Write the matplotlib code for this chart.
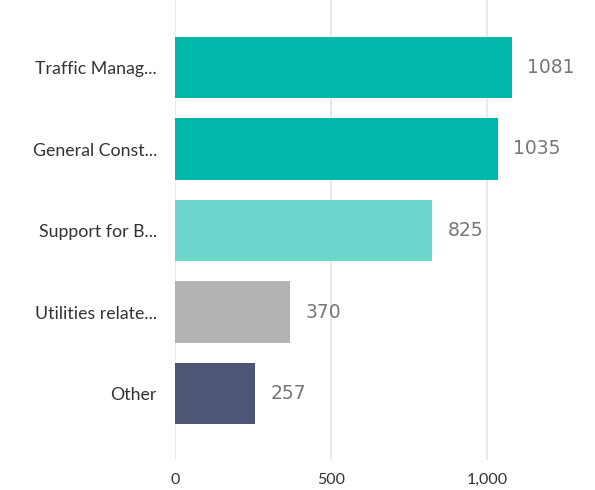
import matplotlib.pyplot as plt
import numpy as np

# Data
categories = ['Traffic Manag...', 'General Const...', 'Support for B...', 'Utilities relate...', 'Other']
values = [1081, 1035, 825, 370, 257]
colors = ['#01B8AA', '#01B8AA', '#6CD6CC', '#B3B3B3', '#4F5675']
ticks = [0, 500, 1000]
tick_labels = ['0', '500', '1,000']

plt.rcParams['font.family'] = ['Lato', 'DejaVu Sans']

W, H = 595, 490
fig = plt.figure(figsize=(W / 100, H / 100), dpi=100)

# axes placed in pixel terms: x=0 at px 175, 0.312 px per unit
left_px, right_px = 175, 590
top_px, bot_px = 0, 460
ax = fig.add_axes([left_px / W, 1 - bot_px / H, (right_px - left_px) / W, (bot_px - top_px) / H])

y = np.arange(len(categories))
ax.barh(y, values, height=0.76, color=colors, zorder=3)

for yi, v in zip(y, values):
    ax.text(v + 48, yi, str(v), va='center', ha='left', fontsize=13.5,
            color='#777777', family='DejaVu Sans')

scale = 156 / 500
ax.set_xlim(0, (right_px - left_px) / scale)
pitch = 81.5
c0 = 67.5
ax.set_ylim((bot_px - c0) / pitch, (top_px - c0) / pitch)

ax.set_yticks(y)
ax.set_yticklabels(categories, fontsize=12.8, color='#333333')
ax.set_xticks(ticks)
ax.set_xticklabels(tick_labels, fontsize=11.5, color='#333333')
ax.tick_params(axis='both', length=0)
ax.tick_params(axis='y', pad=13)
ax.tick_params(axis='x', pad=9)

ax.grid(axis='x', color='#E6E6E6', linewidth=1.2, zorder=0)
for s in ax.spines.values():
    s.set_visible(False)

fig.savefig('out.png', dpi=100)
